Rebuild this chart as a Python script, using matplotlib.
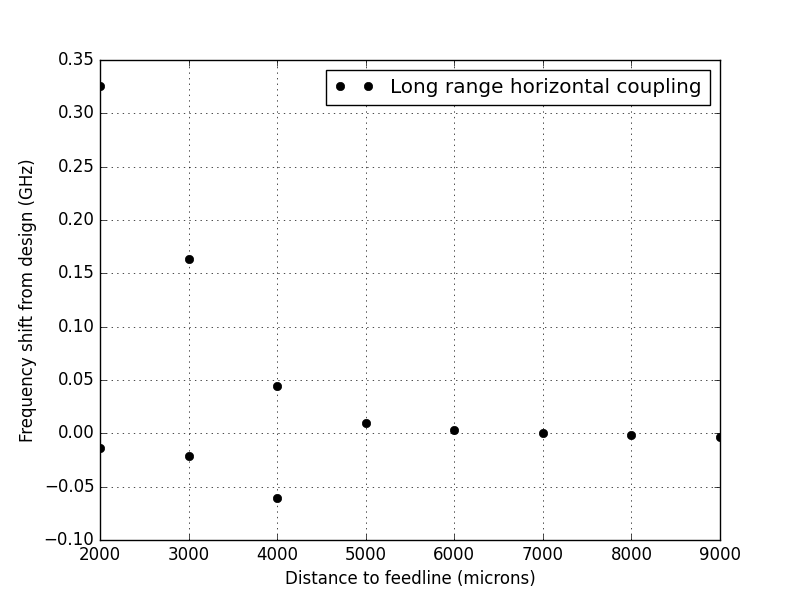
import matplotlib
matplotlib.use('Agg')
import matplotlib.pyplot as plt

plt.style.use('classic')

# Donnees
distance = [2000, 2000, 3000, 3000, 4000, 4000, 5000, 6000, 7000, 8000, 9000]
shift = [0.326, -0.014, 0.163, -0.021, 0.044, -0.061, 0.010, 0.003, 0.000, -0.002, -0.003]

fig = plt.figure(figsize=(8, 6), dpi=100)
plt.plot(distance, shift, 'ko', label="Long range horizontal coupling")
plt.xlim(2000, 9000)
plt.ylim(-0.10, 0.35)
plt.grid(True)
plt.xlabel("Distance to feedline (microns)")
plt.ylabel("Frequency shift from design (GHz)")
plt.legend(numpoints=2, loc='upper right')
plt.savefig('out.png', dpi=100)
